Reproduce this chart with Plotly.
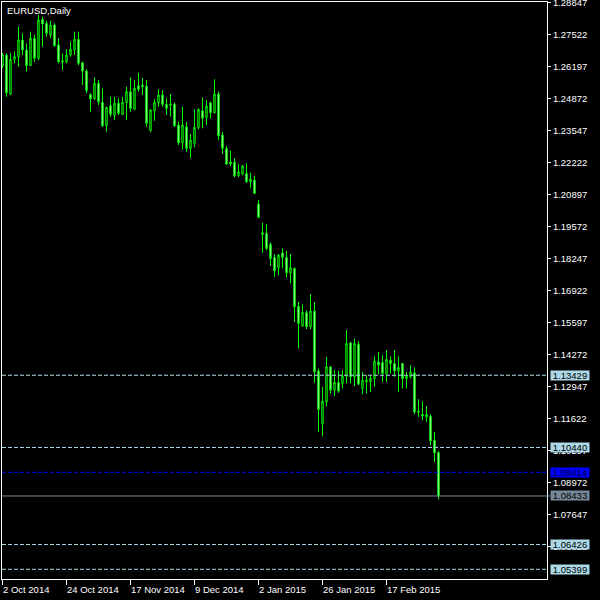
import plotly.graph_objects as go

symbol_title = "EURUSD,Daily"

opens = [1.26226, 1.26682, 1.25067, 1.26504, 1.26611, 1.27303, 1.26889, 1.26239, 1.27373, 1.26545,
         1.28160, 1.27994, 1.27510, 1.27924, 1.27096, 1.26446, 1.26404, 1.26682, 1.26889, 1.27332,
         1.26363, 1.26019, 1.25054, 1.24872, 1.25510, 1.24723, 1.23754, 1.24582, 1.24197, 1.24682,
         1.24226, 1.24707, 1.25162, 1.24433, 1.25411, 1.25440, 1.25398, 1.23547, 1.24375, 1.24707,
         1.25025, 1.24640, 1.24599, 1.24640, 1.23783, 1.23050, 1.23713, 1.22818, 1.23026, 1.23688,
         1.24375, 1.24102, 1.24707, 1.24293, 1.25067, 1.23369, 1.22818, 1.22251, 1.22239, 1.21684,
         1.21754, 1.21783, 1.21436, 1.21506, 1.20512, 1.19324, 1.19299, 1.18844, 1.18305, 1.17891,
         1.18496, 1.18305, 1.17668, 1.17850, 1.16289, 1.15473, 1.16028, 1.15432, 1.16082, 1.13610,
         1.11432, 1.12326, 1.13775, 1.12811, 1.13130, 1.13088, 1.13390, 1.14769, 1.13361, 1.14715,
         1.12881, 1.13154, 1.13154, 1.13295, 1.13982, 1.13958, 1.13473, 1.14053, 1.13916, 1.13610,
         1.13916, 1.13295, 1.13361, 1.13527, 1.11941, 1.11805, 1.11705, 1.11734, 1.10740, 1.10231]
highs = [1.26765, 1.26752, 1.26752, 1.26818, 1.27854, 1.27580, 1.27166, 1.27646, 1.27510, 1.28338,
         1.28268, 1.28102, 1.28102, 1.27994, 1.27373, 1.26752, 1.26918, 1.27232, 1.27646, 1.27646,
         1.26404, 1.26090, 1.25096, 1.25758, 1.25647, 1.25303, 1.24541, 1.24955, 1.24955, 1.24889,
         1.24955, 1.25369, 1.25758, 1.25647, 1.25949, 1.25729, 1.25647, 1.24446, 1.24847, 1.25261,
         1.25232, 1.24889, 1.25067, 1.24707, 1.23920, 1.24541, 1.23920, 1.23411, 1.24433, 1.24475,
         1.24930, 1.24818, 1.24748, 1.25676, 1.25162, 1.23506, 1.22914, 1.22719, 1.22404, 1.22168,
         1.22127, 1.22197, 1.21808, 1.21672, 1.20678, 1.19738, 1.19684, 1.18926, 1.18442, 1.18442,
         1.18678, 1.18579, 1.18442, 1.17891, 1.16467, 1.16372, 1.16123, 1.16786, 1.16454, 1.13709,
         1.12947, 1.14190, 1.13804, 1.13639, 1.13610, 1.13639, 1.15295, 1.14811, 1.14951, 1.14840,
         1.13568, 1.13432, 1.13432, 1.14219, 1.14397, 1.14260, 1.14467, 1.14219, 1.14467, 1.14219,
         1.13941, 1.13568, 1.13846, 1.13751, 1.12438, 1.12355, 1.12148, 1.11817, 1.11084, 1.10285]
lows = [1.26143, 1.24955, 1.25025, 1.26338, 1.26197, 1.26682, 1.25990, 1.26226, 1.26404, 1.26475,
        1.27025, 1.27439, 1.27373, 1.27025, 1.26338, 1.26061, 1.26338, 1.26611, 1.26682, 1.26268,
        1.25440, 1.25096, 1.24334, 1.24818, 1.24611, 1.23713, 1.23506, 1.24127, 1.23990, 1.24197,
        1.24197, 1.23990, 1.24334, 1.24404, 1.25162, 1.25025, 1.23713, 1.23506, 1.23961, 1.24541,
        1.24541, 1.24197, 1.24127, 1.23713, 1.22955, 1.22777, 1.22678, 1.22429, 1.22860, 1.23605,
        1.23647, 1.23783, 1.24061, 1.24268, 1.23162, 1.22583, 1.22127, 1.22086, 1.21618, 1.21643,
        1.21713, 1.21394, 1.21187, 1.20926, 1.19933, 1.18496, 1.18608, 1.17957, 1.17502, 1.17572,
        1.17850, 1.17477, 1.17229, 1.15639, 1.14537, 1.15432, 1.15336, 1.15336, 1.13113, 1.11084,
        1.10906, 1.12148, 1.12674, 1.12562, 1.12699, 1.12881, 1.13088, 1.13088, 1.12976, 1.13018,
        1.12645, 1.12674, 1.12740, 1.12947, 1.13473, 1.13154, 1.13154, 1.13502, 1.13361, 1.12740,
        1.12881, 1.12881, 1.13295, 1.11817, 1.11705, 1.11569, 1.11498, 1.10533, 1.09842, 1.08297]
closes = [1.26682, 1.25121, 1.26504, 1.26611, 1.27303, 1.26889, 1.26239, 1.27373, 1.26545, 1.28131,
          1.27965, 1.27580, 1.27924, 1.27067, 1.26404, 1.26392, 1.26682, 1.26918, 1.27332, 1.26338,
          1.26019, 1.25204, 1.24860, 1.25510, 1.24748, 1.23754, 1.24516, 1.24226, 1.24682, 1.24268,
          1.24723, 1.25162, 1.24475, 1.25303, 1.25261, 1.25369, 1.23854, 1.24404, 1.24723, 1.25025,
          1.24640, 1.24475, 1.24653, 1.23754, 1.23050, 1.23783, 1.22818, 1.23162, 1.23688, 1.24433,
          1.24061, 1.24570, 1.24293, 1.25067, 1.23340, 1.22818, 1.22168, 1.22168, 1.21684, 1.21850,
          1.22086, 1.21436, 1.21547, 1.20955, 1.19962, 1.19258, 1.18678, 1.18264, 1.17750, 1.18401,
          1.18305, 1.17668, 1.17875, 1.16260, 1.15572, 1.16028, 1.15432, 1.16082, 1.13568, 1.12012,
          1.12355, 1.13775, 1.12811, 1.13130, 1.12769, 1.13390, 1.14744, 1.13361, 1.14744, 1.13059,
          1.13225, 1.13225, 1.13295, 1.14011, 1.13846, 1.13502, 1.14082, 1.13916, 1.13610, 1.13751,
          1.13295, 1.13390, 1.13568, 1.11912, 1.11900, 1.11747, 1.11805, 1.10711, 1.10215, 1.08433]

date_tick_index = [0, 16, 32, 48, 64, 80, 96]
date_tick_labels = ["2 Oct 2014", "24 Oct 2014", "17 Nov 2014", "9 Dec 2014",
                    "2 Jan 2015", "26 Jan 2015", "17 Feb 2015"]

price_ticks = [1.28847, 1.27522, 1.26197, 1.24872, 1.23547, 1.22222, 1.20897, 1.19572, 1.18247,
               1.16922, 1.15597, 1.14272, 1.12947, 1.11622, 1.10297, 1.08972, 1.07647, 1.06322]

level_lines = [1.13429, 1.10440, 1.06426, 1.05399]
blue_level = 1.09414
bid_price = 1.08433

FONT = "Liberation Sans"
GREEN = "#00FF00"
LIGHTBLUE = "#ADD8E6"
BLUE = "#0000FF"
GREY = "#778899"

x = list(range(len(opens)))

fig = go.Figure()
fig.add_trace(go.Candlestick(
    x=x, open=opens, high=highs, low=lows, close=closes,
    increasing=dict(line=dict(color=GREEN, width=1), fillcolor="black"),
    decreasing=dict(line=dict(color=GREEN, width=1), fillcolor="white"),
    whiskerwidth=0, hoverinfo="skip", showlegend=False,
))

shapes = []
for lv in level_lines:
    shapes.append(dict(type="line", xref="paper", x0=0, x1=1, yref="y", y0=lv, y1=lv,
                       line=dict(color=LIGHTBLUE, width=1, dash="4px,2px"), layer="above"))
shapes.append(dict(type="line", xref="paper", x0=0, x1=1, yref="y", y0=blue_level, y1=blue_level,
                   line=dict(color=BLUE, width=1, dash="4px,2px"), layer="above"))
shapes.append(dict(type="line", xref="paper", x0=0, x1=1.006, yref="y", y0=bid_price, y1=bid_price,
                   line=dict(color=GREY, width=1), layer="above"))

annotations = []
annotations.append(dict(text=symbol_title, xref="paper", yref="paper", x=0, y=1,
                        xanchor="left", yanchor="top", xshift=3, yshift=-1, showarrow=False,
                        font=dict(family=FONT, size=9.5, color="white")))
for idx, lab in zip(date_tick_index, date_tick_labels):
    annotations.append(dict(text=lab, xref="x", yref="paper", x=idx, y=0,
                            xanchor="left", yanchor="top", xshift=-2, yshift=-3, showarrow=False,
                            font=dict(family=FONT, size=9.5, color="white")))

def level_box(val, bg, fg):
    return dict(text=f"{val:.5f}", xref="paper", yref="y", x=1, y=val,
                xanchor="left", yanchor="middle", xshift=3, showarrow=False,
                bgcolor=bg, width=38, height=9, borderpad=0,
                font=dict(family=FONT, size=9.5, color=fg))

for lv in level_lines:
    annotations.append(level_box(lv, LIGHTBLUE, "black"))
annotations.append(level_box(blue_level, BLUE, "#000030"))
annotations.append(level_box(bid_price, GREY, "black"))

fig.update_layout(
    width=600, height=600,
    margin=dict(l=2, r=53, t=2, b=21, autoexpand=False),
    paper_bgcolor="black", plot_bgcolor="black",
    showlegend=False,
    boxgap=0.5,
    shapes=shapes, annotations=annotations,
    xaxis=dict(range=[-0.125, 136.125], showgrid=False, zeroline=False,
               showline=True, linecolor="white", linewidth=1, mirror=True,
               ticks="outside", ticklen=5, tickcolor="white",
               tickvals=date_tick_index, showticklabels=False,
               rangeslider=dict(visible=False), fixedrange=True),
    yaxis=dict(range=[1.04997, 1.28876], side="right", showgrid=False, zeroline=False,
               showline=True, linecolor="white", linewidth=1, mirror=True,
               ticks="outside", ticklen=3, tickcolor="white",
               tickvals=price_ticks, tickformat=".5f", ticklabeloverflow="allow",
               tickfont=dict(family=FONT, size=9.5, color="white"), fixedrange=True),
)

fig.write_html("out.html", config={"displayModeBar": False},
               post_script="document.body.style.margin='0';document.body.style.padding='0';"
                           "document.body.style.overflow='hidden';")
